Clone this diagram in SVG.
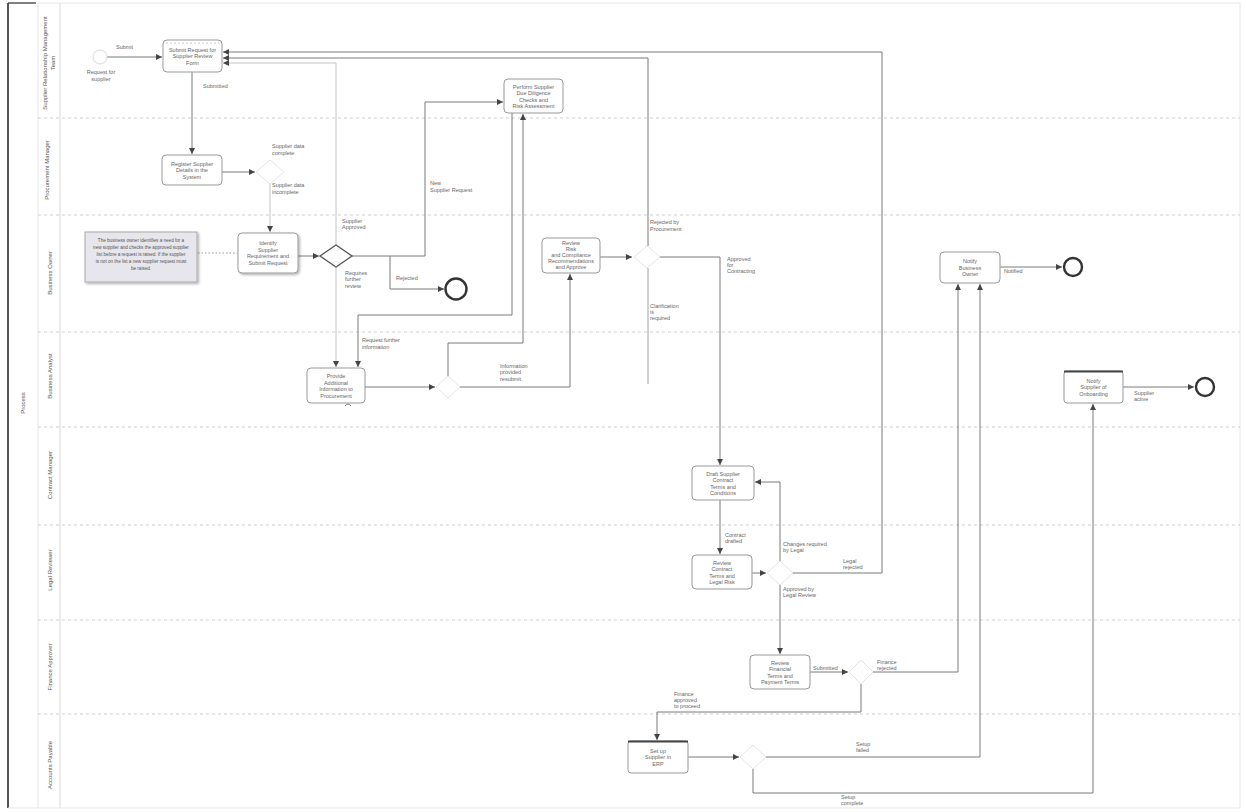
<svg xmlns="http://www.w3.org/2000/svg" width="1246" height="812" viewBox="0 0 1246 812">
<defs>
<marker id="arr" viewBox="0 0 6 6" refX="6" refY="3" markerWidth="6" markerHeight="6" markerUnits="userSpaceOnUse" orient="auto"><path d="M0,0 L6,3 L0,6 z" fill="#444"/></marker>
<filter id="sh" x="-10%" y="-10%" width="130%" height="130%"><feDropShadow dx="1.5" dy="1.5" stdDeviation="0.8" flood-color="#000" flood-opacity="0.3"/></filter>
</defs>
<style>
.t{font-family:"Liberation Sans",Arial,sans-serif;font-size:5.5px;fill:#666}
.tn{font-family:"Liberation Sans",Arial,sans-serif;font-size:4.6px;fill:#555;text-anchor:middle}
.tc{text-anchor:middle}
.ln{font-family:"Liberation Sans",Arial,sans-serif;font-size:6px;fill:#555;text-anchor:middle}
.task{fill:#fff;stroke:#999;stroke-width:1}
.c{fill:none;stroke:#7a7a7a;stroke-width:1;marker-end:url(#arr)}
.cf{fill:none;stroke:#c4c4c4;stroke-width:1;marker-end:url(#arr)}
.cn{fill:none;stroke:#a0a0a0;stroke-width:1}
.as{fill:none;stroke:#999;stroke-width:1;stroke-dasharray:1.5 2}
.gw{fill:#fff;stroke:#555;stroke-width:1.3}
.gwf{fill:#fff;stroke:#e4e4e4;stroke-width:1}
.lane{stroke:#cfcfcf;stroke-width:1;stroke-dasharray:3 3}
.end{fill:#fff;stroke:#333;stroke-width:2.4}
.start{fill:#fff;stroke:#dadada;stroke-width:1}
</style>
<rect width="1246" height="812" fill="#fff"/>
<g id="pool">
<line x1="8" y1="3" x2="8" y2="808" stroke="#555" stroke-width="2"/>
<line x1="8" y1="3" x2="36" y2="3" stroke="#555" stroke-width="1.5"/>
<line x1="38" y1="3" x2="38" y2="808" stroke="#e6e6e6" stroke-width="1"/>
<line x1="60" y1="3" x2="60" y2="808" stroke="#d8d8d8" stroke-width="1"/>
<line x1="1240" y1="3" x2="1240" y2="808" stroke="#e6e6e6" stroke-width="1"/>
<line x1="38" y1="3" x2="1240" y2="3" stroke="#e6e6e6" stroke-width="1"/>
<line x1="8" y1="808" x2="1240" y2="808" stroke="#e6e6e6" stroke-width="1"/>
<text class="ln" transform="translate(25,403) rotate(-90)">Process</text>
</g>
<g id="lanes">
<line class="lane" x1="38" y1="118" x2="1240" y2="118"/>
<line class="lane" x1="38" y1="215" x2="1240" y2="215"/>
<line class="lane" x1="38" y1="332" x2="1240" y2="332"/>
<line class="lane" x1="38" y1="427" x2="1240" y2="427"/>
<line class="lane" x1="38" y1="525" x2="1240" y2="525"/>
<line class="lane" x1="38" y1="620" x2="1240" y2="620"/>
<line class="lane" x1="38" y1="714" x2="1240" y2="714"/>
<text class="ln" transform="translate(47,63) rotate(-90)">Supplier Relationship Management</text>
<text class="ln" transform="translate(55,63) rotate(-90)">Team</text>
<text class="ln" transform="translate(49,170) rotate(-90)">Procurement Manager</text>
<text class="ln" transform="translate(52,273) rotate(-90)">Business Owner</text>
<text class="ln" transform="translate(52,376) rotate(-90)">Business Analyst</text>
<text class="ln" transform="translate(52,475) rotate(-90)">Contract Manager</text>
<text class="ln" transform="translate(52,570) rotate(-90)">Legal Reviewer</text>
<text class="ln" transform="translate(52,667) rotate(-90)">Finance Approver</text>
<text class="ln" transform="translate(52,765) rotate(-90)">Accounts Payable</text>
</g>
<g id="connectors">
<path class="c" d="M107,57 H162"/>
<path class="c" d="M192,72 V154"/>
<path class="c" d="M222,172 H255"/>
<path class="cf" d="M270,184 V232"/>
<path class="as" d="M198,253 H237"/>
<path class="c" d="M298,256 H319"/>
<path class="cf" d="M336,245 V63 H223"/>
<path class="c" d="M352,256 H425 V102 H503"/>
<path class="c" d="M390,256 V289 H444"/>
<path class="cf" d="M336,267 V367"/>
<path class="c" d="M512,113 V315 H358 V367"/>
<path class="c" d="M365,387 H435"/>
<path class="c" d="M448,376 V343 H523 V114"/>
<path class="c" d="M460,387 H570 V274"/>
<path class="c" d="M600,257 H632"/>
<path class="c" d="M648,246 V58 H223"/>
<path class="c" d="M660,257 H720 V465"/>
<path class="cn" d="M648,268 V384"/>
<path class="c" d="M720,500 V554"/>
<path class="c" d="M752,573 H766"/>
<path class="c" d="M780,561 V482 H755"/>
<path class="c" d="M793,573 H882 V52 H223"/>
<path class="c" d="M780,585 V654"/>
<path class="c" d="M810,672 H848"/>
<path class="c" d="M873,672 H958 V284"/>
<path class="c" d="M861,684 V712 H657 V740"/>
<path class="c" d="M688,757 H739"/>
<path class="c" d="M766,757 H980 V284"/>
<path class="c" d="M753,769 V793 H1093 V404"/>
<path class="c" d="M1000,267 H1062"/>
<path class="c" d="M1123,387 H1194"/>
</g>
<g id="flow-labels">
<text class="t" x="116" y="49">Submit</text>
<text class="t" x="203" y="88">Submitted</text>
<text class="t" x="272" y="148">Supplier data</text><text class="t" x="272" y="155">complete</text>
<text class="t" x="272" y="187">Supplier data</text><text class="t" x="272" y="194">incomplete</text>
<text class="t" x="342" y="223">Supplier</text><text class="t" x="342" y="229">Approved</text>
<text class="t" x="430" y="185">New</text><text class="t" x="430" y="192">Supplier Request</text>
<text class="t" x="396" y="280">Rejected</text>
<text class="t" x="345" y="275">Requires</text><text class="t" x="345" y="281">further</text><text class="t" x="345" y="288">review</text>
<text class="t" x="362" y="342">Request further</text><text class="t" x="362" y="349">information</text>
<text class="t" x="500" y="368">Information</text><text class="t" x="500" y="374">provided</text><text class="t" x="500" y="381">resubmit</text>
<text class="t" x="650" y="224">Rejected by</text><text class="t" x="650" y="231">Procurement</text>
<text class="t" x="727" y="261">Approved</text><text class="t" x="727" y="267">for</text><text class="t" x="727" y="273">Contracting</text>
<text class="t" x="650" y="308">Clarification</text><text class="t" x="650" y="314">is</text><text class="t" x="650" y="320">required</text>
<text class="t" x="725" y="537">Contract</text><text class="t" x="725" y="543">drafted</text>
<text class="t" x="783" y="546">Changes required</text><text class="t" x="783" y="552">by Legal</text>
<text class="t" x="843" y="563">Legal</text><text class="t" x="843" y="569">rejected</text>
<text class="t" x="783" y="591">Approved by</text><text class="t" x="783" y="597">Legal Review</text>
<text class="t" x="813" y="670">Submitted</text>
<text class="t" x="877" y="664">Finance</text><text class="t" x="877" y="670">rejected</text>
<text class="t" x="674" y="696">Finance</text><text class="t" x="674" y="702">approved</text><text class="t" x="674" y="708">to proceed</text>
<text class="t" x="856" y="746">Setup</text><text class="t" x="856" y="752">failed</text>
<text class="t" x="841" y="799">Setup</text><text class="t" x="841" y="805">complete</text>
<text class="t" x="1004" y="273">Notified</text>
<text class="t" x="1134" y="395">Supplier</text><text class="t" x="1134" y="401">active</text>
</g>
<g id="start">
<circle class="start" cx="100" cy="57" r="7"/>
<text class="t tc" x="101" y="74">Request for</text><text class="t tc" x="101" y="81">supplier</text>
</g>
<g id="task1">
<rect class="task" x="163" y="40" width="59" height="32" rx="4"/>
<line x1="166" y1="43" x2="219" y2="43" stroke="#ccc" stroke-dasharray="2 2"/>
<text class="t tc" x="192.5" y="51.5">Submit Request for</text><text class="t tc" x="192.5" y="58">Supplier Review</text><text class="t tc" x="192.5" y="64.5">Form</text>
</g>
<g id="task2">
<rect class="task" x="162" y="155" width="60" height="30" rx="4"/>
<text class="t tc" x="192" y="165.5">Register Supplier</text><text class="t tc" x="192" y="172">Details in the</text><text class="t tc" x="192" y="178.5">System</text>
</g>
<g id="gateway0"><path class="gwf" d="M256,172 L270,160 L284,172 L270,184 Z"/></g>
<g id="note">
<rect x="85" y="232" width="112" height="50" fill="#e6e6ec" stroke="#aaa" filter="url(#sh)"/>
<text class="tn" x="141" y="242">The business owner identifies a need for a</text>
<text class="tn" x="141" y="249">new supplier and checks the approved supplier</text>
<text class="tn" x="141" y="256">list before a request is raised. If the supplier</text>
<text class="tn" x="141" y="263">is not on the list a new supplier request must</text>
<text class="tn" x="141" y="270">be raised.</text>
</g>
<g id="task3">
<rect class="task" x="238" y="233" width="60" height="40" rx="4" filter="url(#sh)"/>
<text class="t tc" x="268" y="245">Identify</text><text class="t tc" x="268" y="251.5">Supplier</text><text class="t tc" x="268" y="258">Requirement and</text><text class="t tc" x="268" y="264.5">Submit Request</text>
</g>
<g id="gateway1"><path class="gw" d="M320,256 L336,245 L352,256 L336,267 Z"/></g>
<g id="end1"><circle class="end" cx="456" cy="289" r="10.5"/></g>
<g id="task4">
<rect class="task" x="504" y="79" width="59" height="34" rx="4"/>
<text class="t tc" x="533.5" y="88.5">Perform Supplier</text><text class="t tc" x="533.5" y="95">Due Diligence</text><text class="t tc" x="533.5" y="101.5">Checks and</text><text class="t tc" x="533.5" y="108">Risk Assessment</text>
</g>
<g id="task5">
<rect class="task" x="307" y="368" width="58" height="35" rx="4"/>
<text class="t tc" x="336" y="378">Provide</text><text class="t tc" x="336" y="384.5">Additional</text><text class="t tc" x="336" y="391">Information to</text><text class="t tc" x="336" y="397.5">Procurement</text>
<path d="M345,406 q3,-4 6,0" fill="none" stroke="#777"/>
</g>
<g id="gateway6"><path class="gwf" d="M436,387 L448,376 L460,387 L448,398 Z"/></g>
<g id="task6">
<rect class="task" x="542" y="238" width="58" height="35" rx="4"/>
<text class="t tc" x="571" y="245">Review</text><text class="t tc" x="571" y="251">Risk</text><text class="t tc" x="571" y="257">and Compliance</text><text class="t tc" x="571" y="263">Recommendations</text><text class="t tc" x="571" y="269">and Approve</text>
</g>
<g id="gateway2"><path class="gwf" d="M634,257 L647,246 L660,257 L647,268 Z"/></g>
<g id="task7">
<rect class="task" x="692" y="466" width="62" height="34" rx="4"/>
<text class="t tc" x="723" y="475.5">Draft Supplier</text><text class="t tc" x="723" y="482">Contract</text><text class="t tc" x="723" y="488.5">Terms and</text><text class="t tc" x="723" y="495">Conditions</text>
</g>
<g id="task8">
<rect class="task" x="692" y="555" width="60" height="34" rx="4"/>
<text class="t tc" x="722" y="564.5">Review</text><text class="t tc" x="722" y="571">Contract</text><text class="t tc" x="722" y="577.5">Terms and</text><text class="t tc" x="722" y="584">Legal Risk</text>
</g>
<g id="gateway3"><path class="gwf" d="M767,573 L780,561 L793,573 L780,585 Z"/></g>
<g id="task9">
<rect class="task" x="750" y="655" width="60" height="34" rx="4"/>
<text class="t tc" x="780" y="664.5">Review</text><text class="t tc" x="780" y="671">Financial</text><text class="t tc" x="780" y="677.5">Terms and</text><text class="t tc" x="780" y="684">Payment Terms</text>
</g>
<g id="gateway4"><path class="gwf" d="M849,672 L861,660 L873,672 L861,684 Z"/></g>
<g id="task11">
<rect class="task" x="628" y="741" width="60" height="32" rx="3"/>
<line x1="628" y1="741.5" x2="688" y2="741.5" stroke="#444" stroke-width="2"/>
<text class="t tc" x="658" y="752.5">Set up</text><text class="t tc" x="658" y="759">Supplier in</text><text class="t tc" x="658" y="765.5">ERP</text>
</g>
<g id="gateway5"><path class="gwf" d="M740,757 L753,745 L766,757 L753,769 Z"/></g>
<g id="task10">
<rect class="task" x="940" y="252" width="60" height="31" rx="4"/>
<text class="t tc" x="970" y="263">Notify</text><text class="t tc" x="970" y="269.5">Business</text><text class="t tc" x="970" y="276">Owner</text>
</g>
<g id="end2"><circle class="end" cx="1073" cy="267" r="9"/></g>
<g id="task12">
<rect class="task" x="1064" y="371" width="59" height="32" rx="3"/>
<line x1="1064" y1="371.5" x2="1123" y2="371.5" stroke="#444" stroke-width="2"/>
<text class="t tc" x="1093.5" y="382.5">Notify</text><text class="t tc" x="1093.5" y="389">Supplier of</text><text class="t tc" x="1093.5" y="395.5">Onboarding</text>
</g>
<g id="end3"><circle class="end" cx="1205" cy="387" r="9"/></g>
</svg>
